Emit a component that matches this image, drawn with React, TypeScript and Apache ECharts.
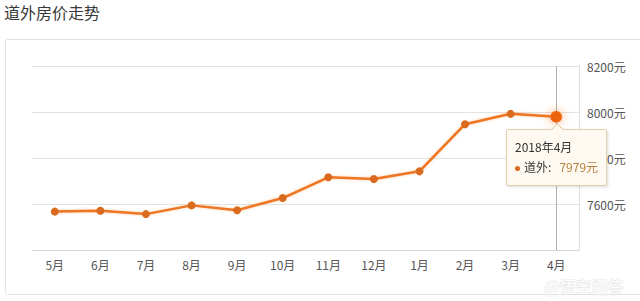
import React, { useEffect, useRef } from "react";
import * as echarts from "echarts";

const title = "道外房价走势";
const seriesName = "道外";
const months = ["5月", "6月", "7月", "8月", "9月", "10月", "11月", "12月", "1月", "2月", "3月", "4月"];
const fullLabels = ["2017年5月", "2017年6月", "2017年7月", "2017年8月", "2017年9月", "2017年10月", "2017年11月", "2017年12月", "2018年1月", "2018年2月", "2018年3月", "2018年4月"];
const prices = [7567, 7571, 7556, 7594, 7573, 7626, 7716, 7709, 7742, 7947, 7992, 7979];
const yMin = 7400;
const yMax = 8200;
const yStep = 200;
const highlightIndex = 11;

const FONT = "'Noto Sans CJK SC', 'Microsoft YaHei', sans-serif";
const LINE = "#d96a1e";

export default function App() {
  const ref = useRef<HTMLDivElement>(null);
  useEffect(() => {
    document.body.style.margin = "0";
    if (!ref.current) return;
    const chart = echarts.init(ref.current, null, { renderer: "svg" });
    chart.setOption({
      animation: false,
      textStyle: { fontFamily: FONT },
      graphic: [
        {
          type: "text",
          left: 4,
          top: 4,
          style: { text: title, fontSize: 16, fill: "#383838", fontFamily: FONT },
        },
        {
          type: "rect",
          shape: { x: 5.5, y: 39.5, width: 700, height: 255, r: 2 },
          style: { fill: "none", stroke: "#e2e2e2", lineWidth: 1 },
          z: -1,
        },
        {
          type: "text",
          right: 16,
          top: 277,
          style: {
            text: "@悟空问答",
            fontSize: 16,
            fill: "rgba(255,255,255,0.97)",
            stroke: "rgba(215,215,215,0.7)",
            lineWidth: 1,
            fontFamily: FONT,
          },
          z: 100,
        },
      ],
      grid: { left: 32, right: 61, top: 66, bottom: 51 },
      tooltip: {
        trigger: "item",
        alwaysShowContent: true,
        position: (point: number[], _p: any, _d: any, _r: any, size: any) => [
          point[0] - size.contentSize[0] / 2,
          point[1] + 12,
        ],
        backgroundColor: "#fffaf1",
        borderColor: "#e3cfae",
        borderWidth: 1,
        padding: [7, 8, 8, 8],
        extraCssText: "box-shadow: 1px 1px 3px rgba(0,0,0,0.15); border-radius: 2px; overflow: visible; line-height: 20px;",
        textStyle: { fontFamily: FONT, fontSize: 12, color: "#333" },
        formatter: (p: any) =>
          `<span style="position:absolute;left:50%;top:-5px;margin-left:-4px;width:8px;height:8px;background:#fffaf1;border-left:1px solid #e3cfae;border-top:1px solid #e3cfae;transform:rotate(45deg);z-index:2"></span>` +
          `<div style="line-height:20px">${fullLabels[p.dataIndex]}</div>` +
          `<div style="line-height:20px"><span style="display:inline-block;width:5px;height:5px;border-radius:50%;background:${LINE};margin-right:4px;vertical-align:middle"></span>` +
          `${seriesName}:&nbsp;&nbsp;&nbsp;<span style="color:#b5803f">${p.value}元</span></div>`,
      },
      xAxis: {
        type: "category",
        data: months,
        boundaryGap: true,
        axisLine: { lineStyle: { color: "#d6d6d6" } },
        axisTick: { alignWithLabel: true, length: 4, lineStyle: { color: "#d6d6d6" } },
        axisLabel: { color: "#555", fontSize: 12, margin: 8, fontFamily: FONT },
        splitLine: { show: false },
        axisPointer: {
          show: true,
          type: "line",
          value: months[highlightIndex],
          status: "show",
          triggerTooltip: false,
          z: 1,
          label: { show: false },
          lineStyle: { color: "#b0b0b0", width: 1, type: "solid" },
        },
      },
      yAxis: {
        type: "value",
        position: "right",
        min: yMin,
        max: yMax,
        interval: yStep,
        axisLine: { show: true, lineStyle: { color: "#e0e0e0" } },
        axisTick: { show: false },
        axisLabel: {
          color: "#555",
          fontSize: 12,
          margin: 8,
          fontFamily: FONT,
          showMinLabel: false,
          formatter: (v: number) => `${v}元`,
        },
        splitLine: { lineStyle: { color: "#e3e3e3" } },
      },
      series: [
        {
          type: "line",
          name: seriesName,
          data: prices,
          symbol: "circle",
          symbolSize: 8,
          showSymbol: true,
          z: 5,
          itemStyle: { color: LINE },
          lineStyle: {
            color: LINE,
            width: 2.5,
            shadowColor: "rgba(245,150,70,0.45)",
            shadowBlur: 3,
          },
          emphasis: {
            scale: 1.45,
            itemStyle: {
              color: "#ee640f",
              shadowColor: "rgba(255,120,40,0.7)",
              shadowBlur: 10,
            },
          },
        },
      ],
    });
    chart.dispatchAction({ type: "highlight", seriesIndex: 0, dataIndex: highlightIndex });
    chart.dispatchAction({ type: "showTip", seriesIndex: 0, dataIndex: highlightIndex });
    return () => chart.dispose();
  }, []);
  return <div ref={ref} style={{ width: 640, height: 301, background: "#fff" }} />;
}
